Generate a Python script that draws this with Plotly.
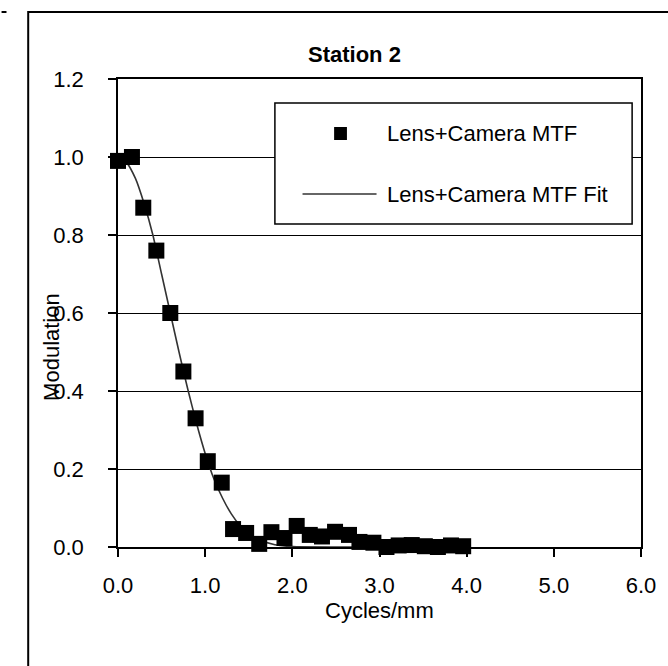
import plotly.graph_objects as go

# ---- data ----
mtf_x = [0.00, 0.16, 0.29, 0.44, 0.60, 0.75, 0.89, 1.03, 1.19, 1.32, 1.47, 1.62, 1.76, 1.91,
         2.05, 2.20, 2.34, 2.49, 2.65, 2.77, 2.93, 3.08, 3.22, 3.37, 3.52, 3.67, 3.82, 3.96]
mtf_y = [0.99, 1.00, 0.87, 0.76, 0.60, 0.45, 0.33, 0.22, 0.165, 0.046, 0.036, 0.008, 0.038, 0.023,
         0.054, 0.031, 0.027, 0.039, 0.031, 0.013, 0.011, 0.000, 0.004, 0.005, 0.002, 0.000, 0.004, 0.002]

fit_x = [0.0, 0.1, 0.2, 0.3, 0.4, 0.5, 0.6, 0.7, 0.8, 0.9, 1.0, 1.1, 1.2, 1.3, 1.4, 1.5, 1.6,
         1.8, 2.0, 2.5, 3.0, 3.5, 3.95]
fit_y = [1.000, 0.985, 0.945, 0.880, 0.800, 0.700, 0.600, 0.500, 0.405, 0.318, 0.240, 0.175,
         0.125, 0.085, 0.055, 0.034, 0.020, 0.006, 0.001, 0.0, 0.0, 0.0, 0.0]

x_ticks = [0, 1, 2, 3, 4, 5, 6]
y_ticks = [0.0, 0.2, 0.4, 0.6, 0.8, 1.0, 1.2]

title_text = "Station 2"
x_title = "Cycles/mm"
y_title = "Modulation"
series_names = ["Lens+Camera MTF", "Lens+Camera MTF Fit"]

# ---- layout geometry (pixels) ----
W, H = 668, 666
L, R, T, B = 118, 648, 79, 547
FONT = "Liberation Sans, Arial, sans-serif"
FS = 22


def px(x):
    return (x - L) / (R - L)


def py(y):
    return (B - y) / (B - T)


fig = go.Figure()

fig.add_trace(go.Scatter(
    x=fit_x, y=fit_y, mode="lines", name=series_names[1],
    line=dict(color="#333333", width=1.6, shape="spline", smoothing=0.6),
    cliponaxis=False, showlegend=False,
))
fig.add_trace(go.Scatter(
    x=mtf_x, y=mtf_y, mode="markers", name=series_names[0],
    marker=dict(symbol="square", size=16, color="black", line=dict(width=0)),
    cliponaxis=False, showlegend=False,
))

shapes = []
# outer chart border
shapes.append(dict(type="rect", xref="paper", yref="paper",
                   x0=px(27), x1=px(700), y0=py(700), y1=py(12),
                   line=dict(color="black", width=2), layer="below"))
# small neighbour border piece top-left
shapes.append(dict(type="line", xref="paper", yref="paper",
                   x0=px(0), x1=px(5), y0=py(12), y1=py(12),
                   line=dict(color="black", width=2)))
# legend box
shapes.append(dict(type="rect", xref="paper", yref="paper",
                   x0=px(277), x1=px(639), y0=py(224), y1=py(103),
                   line=dict(color="black", width=1.5), fillcolor="white", layer="above"))
# legend marker
shapes.append(dict(type="rect", xref="paper", yref="paper",
                   x0=px(337), x1=px(350), y0=py(140), y1=py(127),
                   line=dict(width=0), fillcolor="black", layer="above"))
# legend line
shapes.append(dict(type="line", xref="paper", yref="paper",
                   x0=px(305), x1=px(380), y0=py(194), y1=py(194),
                   line=dict(color="#333333", width=1.5), layer="above"))

annotations = [
    dict(text=series_names[0], xref="paper", yref="paper", x=px(389), y=py(133),
         xanchor="left", yanchor="middle", showarrow=False,
         font=dict(family=FONT, size=FS, color="black")),
    dict(text=series_names[1], xref="paper", yref="paper", x=px(389), y=py(194),
         xanchor="left", yanchor="middle", showarrow=False,
         font=dict(family=FONT, size=FS, color="black")),
    dict(text="<b>" + title_text + "</b>", xref="paper", yref="paper", x=px(358), y=py(55),
         xanchor="center", yanchor="middle", showarrow=False,
         font=dict(family=FONT, size=FS, color="black")),
    dict(text=x_title, xref="paper", yref="paper", x=px(383), y=py(610),
         xanchor="center", yanchor="middle", showarrow=False,
         font=dict(family=FONT, size=FS, color="black")),
    dict(text=y_title, xref="paper", yref="paper", x=px(50), y=py(347),
         xanchor="center", yanchor="middle", showarrow=False, textangle=-90,
         font=dict(family=FONT, size=FS, color="black")),
]

fig.update_layout(
    width=W, height=H,
    margin=dict(l=L, r=W - R, t=T, b=H - B, pad=0),
    paper_bgcolor="white", plot_bgcolor="white",
    font=dict(family=FONT, size=FS, color="black"),
    shapes=shapes, annotations=annotations,
    showlegend=False,
)
fig.update_xaxes(
    range=[0, 6], tickvals=x_ticks, tickformat=".1f",
    showgrid=False, zeroline=False,
    showline=True, linecolor="black", linewidth=1.5, mirror=True,
    ticks="outside", ticklen=8, tickcolor="black", tickwidth=1.5,
    ticklabelstandoff=10,
    tickfont=dict(family=FONT, size=FS, color="black"),
)
fig.update_yaxes(
    range=[0, 1.2], tickvals=y_ticks, tickformat=".1f",
    showgrid=True, gridcolor="black", gridwidth=1.2, zeroline=False,
    showline=True, linecolor="black", linewidth=1.5, mirror=True,
    ticks="outside", ticklen=8, tickcolor="black", tickwidth=1.5,
    ticklabelstandoff=20,
    tickfont=dict(family=FONT, size=FS, color="black"),
)

fig.write_html("out.html")
